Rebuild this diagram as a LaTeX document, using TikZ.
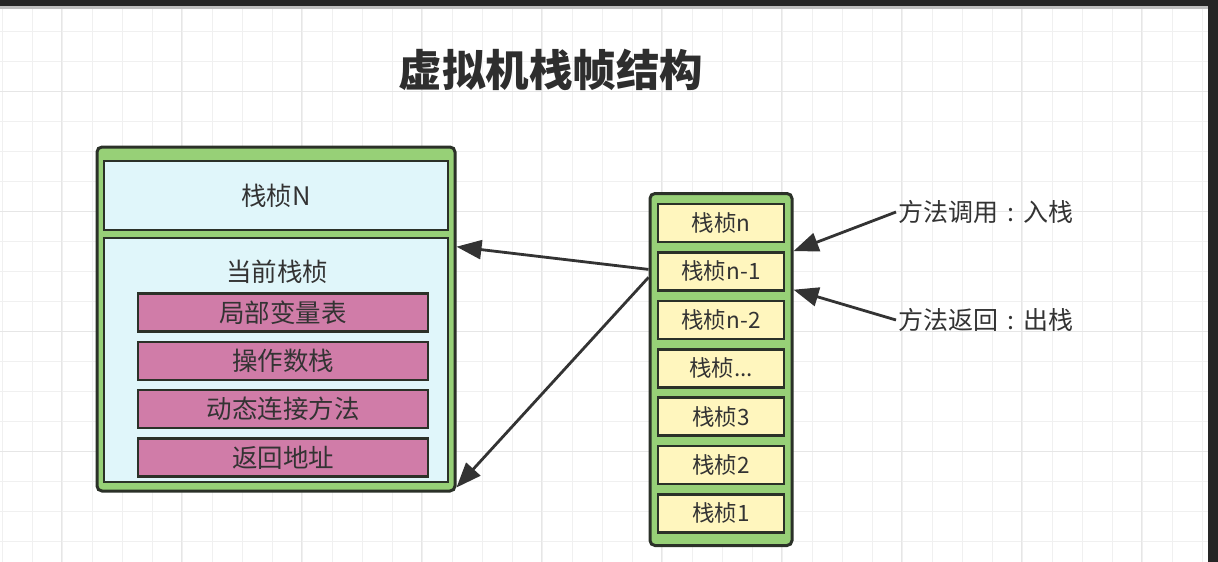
\documentclass[tikz,border=0pt]{standalone}
\usepackage{fontspec}
\newfontfamily\cjk{Noto Sans CJK SC}
\usetikzlibrary{arrows.meta,positioning}
\definecolor{gridc}{HTML}{F0F0F0}
\definecolor{gridm}{HTML}{E6E6E6}
\definecolor{greenc}{HTML}{97D077}
\definecolor{cyanc}{HTML}{E0F6FA}
\definecolor{pinkc}{HTML}{D07CA8}
\definecolor{yellowc}{HTML}{FFF6BE}
\definecolor{edgec}{HTML}{2B3128}
\definecolor{textc}{HTML}{333333}
\newcommand{\midcolon}{\hbox to 1em{\hss:\hss}}
\begin{document}
\begin{tikzpicture}[
  x=1pt, y=1pt,
  bigbox/.style={rectangle, rounded corners=5pt, draw=edgec, line width=3pt, fill=greenc},
  cyanbox/.style={rectangle, draw=edgec, line width=2.6pt, fill=cyanc, minimum width=344pt},
  pinkbox/.style={rectangle, draw=edgec, line width=2.6pt, fill=pinkc, minimum width=290pt, minimum height=38pt, font=\cjk\fontsize{25.5}{28}\selectfont},
  slotbox/.style={rectangle, draw=edgec, line width=2.6pt, fill=yellowc, minimum width=126pt, minimum height=38pt, font=\cjk\fontsize{22.5}{25}\selectfont},
  note/.style={inner sep=2pt, font=\cjk\fontsize{25}{28}\selectfont, text=textc},
  link/.style={-{Triangle[length=25pt,width=19pt]}, line width=2.8pt, draw=textc},
  text=textc
]
\useasboundingbox (0,0) rectangle (1218,-562);
% Background grid
\fill[white] (0,0) rectangle (1218,-562);
\foreach \x in {2,32,...,1208} \draw[gridc, line width=1pt] (\x,-9) -- (\x,-562);
\foreach \y in {31,61,...,541} \draw[gridc, line width=1pt] (0,-\y) -- (1208,-\y);
\foreach \x in {61,181,...,1208} \draw[gridm, line width=1pt] (\x,-9) -- (\x,-562);
\foreach \y in {91,211,331,451} \draw[gridm, line width=1pt] (0,-\y) -- (1208,-\y);
\fill[black!85] (0,0) rectangle (1218,-6);
\fill[black!25] (0,-6) rectangle (1208,-9);
\fill[black!85] (1208,0) rectangle (1218,-562);

% Title
\node[font=\cjk\bfseries\fontsize{43.5}{48}\selectfont, text=black!82] (title) at (551,-70) {虚拟机栈帧结构};

% Frame detail
\node[bigbox, minimum width=358pt, minimum height=344pt] (frame) at (276,-319) {};
\node[cyanbox, minimum height=69pt, font=\cjk\fontsize{25.5}{28}\selectfont] (frameN) at (276,-195.5) {栈桢N};
\node[cyanbox, minimum height=244pt] (cur) at (276,-360) {};
\node[font=\cjk\fontsize{25.5}{28}\selectfont] (curname) at (277,-272) {当前栈桢};
\node[pinkbox] (locals) at (283,-312.5) {局部变量表};
\node[pinkbox, below of=locals, node distance=48.3pt] (opstack) {操作数栈};
\node[pinkbox, below of=opstack, node distance=48.3pt] (dynlink) {动态连接方法};
\node[pinkbox, below of=dynlink, node distance=48.3pt] (retaddr) {返回地址};

% Stack
\node[bigbox, minimum width=142pt, minimum height=352pt] (stack) at (721,-369.5) {};
\node[slotbox] (sn) at (721,-223) {栈桢n};
\node[slotbox, below of=sn, node distance=48.4pt] (sn1) {栈桢n-1};
\node[slotbox, below of=sn1, node distance=48.4pt] (sn2) {栈桢n-2};
\node[slotbox, below of=sn2, node distance=48.4pt] (sdots) {栈桢...};
\node[slotbox, below of=sdots, node distance=48.4pt] (s3) {栈桢3};
\node[slotbox, below of=s3, node distance=48.4pt] (s2) {栈桢2};
\node[slotbox, below of=s2, node distance=48.4pt] (s1) {栈桢1};

% Notes
\node[note, anchor=west] (push) at (896,-212) {方法调用\midcolon 入栈};
\node[note, anchor=west] (pop) at (896,-320) {方法返回\midcolon 出栈};

% Connections
\draw[link] ([yshift=2pt]stack.west |- sn1.west) -- ([yshift=-10pt]cur.north -| frame.east);
\draw[link] ([yshift=-6pt]stack.west |- sn1.west) -- ([yshift=5pt]frame.south east);
\draw[link] (push.west) -- (stack.east |- sn1.north);
\draw[link] (pop.west) -- ([yshift=2pt]stack.east |- sn1.south);
\end{tikzpicture}
\end{document}
